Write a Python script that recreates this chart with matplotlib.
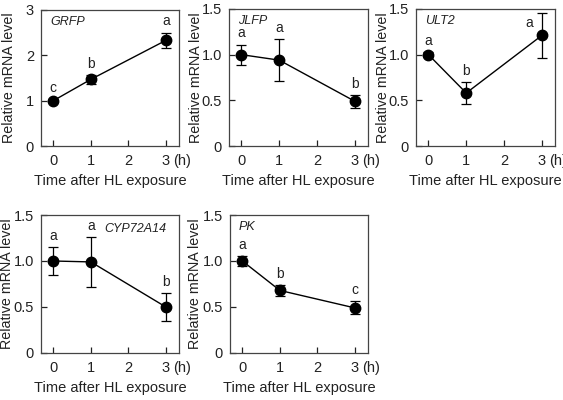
import matplotlib
matplotlib.use("Agg")
import matplotlib.pyplot as plt

plt.rcParams['font.family'] = ['Liberation Sans', 'DejaVu Sans']
plt.rcParams['font.size'] = 10

hours = [0, 1, 3]

genes = ["GRFP", "JLFP", "ULT2", "CYP72A14", "PK"]
means = {
    "GRFP": [1.0, 1.47, 2.33],
    "JLFP": [1.0, 0.94, 0.49],
    "ULT2": [1.0, 0.58, 1.21],
    "CYP72A14": [1.0, 0.99, 0.50],
    "PK": [1.0, 0.68, 0.49],
}
errors = {
    "GRFP": [0.03, 0.10, 0.17],
    "JLFP": [0.11, 0.23, 0.07],
    "ULT2": [0.03, 0.12, 0.245],
    "CYP72A14": [0.15, 0.27, 0.15],
    "PK": [0.05, 0.06, 0.07],
}
letters = {
    "GRFP": ["c", "b", "a"],
    "JLFP": ["a", "a", "b"],
    "ULT2": ["a", "b", "a"],
    "CYP72A14": ["a", "a", "b"],
    "PK": ["a", "b", "c"],
}
y_max = {"GRFP": 3, "JLFP": 1.5, "ULT2": 1.5, "CYP72A14": 1.5, "PK": 1.5}
y_ticks = {
    "GRFP": ([0, 1, 2, 3], ["0", "1", "2", "3"]),
}
default_ticks = ([0, 0.5, 1.0, 1.5], ["0", "0.5", "1.0", "1.5"])

# axes rectangles in pixels (left, top, width, height)
W, H = 563, 400
boxes = {
    "GRFP": (41, 10, 138, 136),
    "JLFP": (229, 9, 139, 137),
    "ULT2": (416, 9, 139, 137),
    "CYP72A14": (41, 215, 138, 138),
    "PK": (230, 215, 138, 138),
}
ylabel_x = {"GRFP": -0.18, "JLFP": -0.187, "ULT2": -0.187, "CYP72A14": -0.196, "PK": -0.2}

fig = plt.figure(figsize=(W / 100, H / 100), dpi=100)
txt = '#222222'

for g in genes:
    l, t, w, h = boxes[g]
    ax = fig.add_axes([l / W, 1 - (t + h) / H, w / W, h / H])
    ax.errorbar(hours, means[g], yerr=errors[g], fmt='-o', color='black',
                ms=7.5, lw=1, elinewidth=0.9, capsize=3.5, capthick=0.9)
    ax.set_xlim(-0.33, 3.35)
    ax.set_ylim(0, y_max[g])
    ticks, labels = y_ticks.get(g, default_ticks)
    ax.set_yticks(ticks)
    ax.set_yticklabels(labels)
    ax.set_xticks([0, 1, 2, 3])
    ax.set_xticklabels(["0", "1", "2", "3"])
    ax.tick_params(direction='in', length=4, width=0.9, pad=5, labelsize=10.5,
                   colors=txt)
    ax.tick_params(axis='x', pad=6)
    for s in ax.spines.values():
        s.set_linewidth(0.9)
        s.set_color('#444444')
    ax.set_xlabel("Time after HL exposure", fontsize=10.5, labelpad=4, color=txt)
    ax.set_ylabel("Relative mRNA level", fontsize=10.3, color=txt)
    ax.yaxis.set_label_coords(ylabel_x[g], 0.5)
    ax.annotate("(h)", xy=(3, 0), xycoords=('data', 'axes fraction'),
                xytext=(5, -6), textcoords='offset points',
                ha='left', va='top', fontsize=10.5, color=txt,
                annotation_clip=False)

    for i, (x, m, e, lt) in enumerate(zip(hours, means[g], errors[g], letters[g])):
        if g == "ULT2" and i == 2:
            ax.annotate(lt, xy=(x, m + e), xytext=(-9, -12),
                        textcoords='offset points', ha='center', va='bottom',
                        fontsize=10, color=txt)
        else:
            ax.annotate(lt, xy=(x, m + e), xytext=(0, 3),
                        textcoords='offset points', ha='center', va='bottom',
                        fontsize=10, color=txt)

    if g == "CYP72A14":
        ax.text(0.91, 0.90, g, transform=ax.transAxes, ha='right', va='center',
                style='italic', fontsize=9, color=txt)
    else:
        ax.text(0.065, 0.91, g, transform=ax.transAxes, ha='left', va='center',
                style='italic', fontsize=9, color=txt)

fig.savefig("out.png", dpi=100, facecolor='white')
